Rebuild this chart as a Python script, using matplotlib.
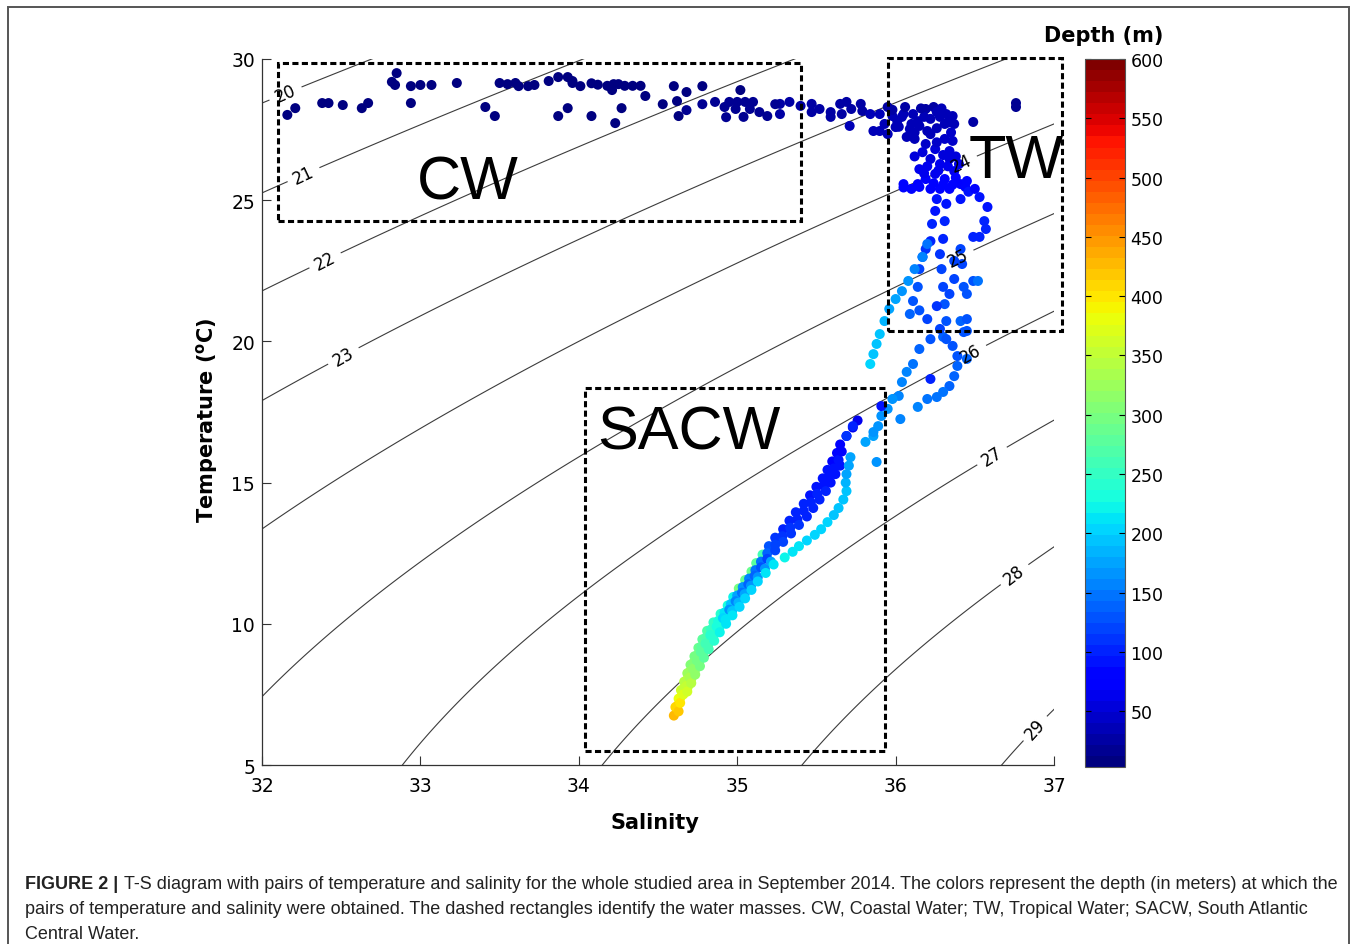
import numpy as np
import matplotlib
matplotlib.use("Agg")
import matplotlib.pyplot as plt
from matplotlib.colors import Normalize
from matplotlib.patches import Rectangle

# ---- data (salinity, temperature degC, depth m) ----
# surface / Coastal Water points
surf_sal = [32.16, 32.21, 32.38, 32.42, 32.51, 32.63, 32.67, 32.82, 32.85, 32.84,
            32.94, 32.94, 33.00, 33.07, 33.23, 33.41, 33.47, 33.50, 33.55, 33.60,
            33.62, 33.68, 33.72, 33.81, 33.87, 33.87, 33.93, 33.93, 33.96, 33.96,
            34.01, 34.08, 34.12, 34.18, 34.22, 34.25, 34.29, 34.34, 34.39, 34.21,
            34.42, 34.23, 34.27, 34.08, 34.53, 34.60, 34.62, 34.63, 34.68, 34.68,
            34.78, 34.78, 34.86, 34.92, 34.93, 34.95, 35.00, 35.05, 35.10, 35.02,
            34.99, 35.04, 35.08, 35.14, 35.19, 35.24, 35.27]
surf_temp = [28.02, 28.26, 28.44, 28.44, 28.37, 28.26, 28.44, 29.19, 29.50, 29.08,
             29.04, 28.44, 29.08, 29.08, 29.15, 28.30, 27.98, 29.15, 29.11, 29.15,
             29.04, 29.04, 29.08, 29.22, 29.36, 27.98, 28.26, 29.36, 29.22, 29.15,
             29.04, 29.14, 29.09, 29.05, 29.11, 29.11, 29.05, 29.05, 29.05, 28.90,
             28.69, 27.73, 28.26, 27.98, 28.40, 29.04, 28.51, 27.98, 28.83, 28.19,
             29.04, 28.40, 28.48, 28.30, 27.94, 28.48, 28.48, 28.48, 28.48, 28.90,
             28.23, 27.95, 28.23, 28.12, 27.98, 28.40, 28.05]
surf_depth = [8, 8, 8, 8, 8, 8, 8, 8, 8, 10,
              8, 10, 8, 8, 8, 10, 10, 8, 8, 8,
              10, 8, 8, 8, 8, 10, 10, 8, 8, 10,
              10, 8, 8, 8, 8, 8, 8, 8, 8, 10,
              12, 12, 10, 10, 12, 10, 12, 12, 12, 14,
              10, 14, 14, 15, 15, 15, 15, 15, 18, 12,
              16, 18, 18, 20, 20, 18, 22]

# Tropical Water points
tw_sal = [35.27, 35.33, 35.40, 35.47, 35.47, 35.52, 35.59, 35.59, 35.65, 35.66,
          35.69, 35.71, 35.72, 35.78, 35.79, 35.84, 35.86, 35.90, 35.90, 35.95,
          35.95, 35.98, 36.01, 36.05, 36.07, 36.11, 36.14, 36.15, 36.20, 36.24,
          36.26, 36.28, 36.32, 36.36, 36.37, 36.36, 36.34, 36.49, 36.76, 36.76,
          36.06, 36.19, 36.00, 36.09, 36.22, 36.31,
          35.98, 36.02, 36.10, 36.18, 36.16, 36.29, 36.33, 36.26, 36.12, 36.04,
          36.35, 35.93,
          36.12, 36.19, 36.25, 36.31, 36.34, 36.28, 36.22, 36.15, 36.19, 36.25,
          36.31, 36.37, 36.41, 36.34, 36.28, 36.22, 36.14, 36.05, 36.10, 36.15,
          36.41, 36.44, 36.40, 36.22,
          36.17, 36.30, 36.20, 36.27, 36.33, 36.38, 36.24, 36.30, 36.36, 36.18,
          36.12, 36.05, 36.26, 36.38, 36.46,
          36.26, 36.25, 36.23, 36.22, 36.19, 36.17, 36.15, 36.14, 36.11, 36.09,
          36.15, 36.20, 36.22, 36.15, 36.11, 36.07, 36.04, 36.02, 35.98, 35.95,
          35.91, 35.89, 35.86, 35.81, 35.88, 36.03, 36.14, 36.20,
          36.20, 36.17, 36.12, 36.08, 36.04, 36.00, 35.96, 35.93, 35.90, 35.88,
          35.86, 35.84,
          36.32, 36.31, 36.30, 36.28, 36.29, 36.30, 36.31, 36.32, 36.30,
          36.45, 36.50, 36.53, 36.58, 36.56, 36.53, 36.49, 36.57, 36.42, 36.43,
          36.49, 36.52, 36.45, 36.41, 36.45, 36.41, 36.37, 36.37, 36.34,
          36.26, 36.28, 36.32, 36.36, 36.39, 36.39, 36.37, 36.34, 36.30, 36.26,
          36.45, 36.43, 36.45, 36.22,
          35.73, 35.69, 35.91, 35.86]
tw_temp = [28.41, 28.48, 28.34, 28.41, 28.12, 28.23, 28.12, 27.95, 28.41, 28.05,
           28.48, 27.63, 28.23, 28.41, 28.16, 28.05, 27.45, 27.45, 28.05, 28.30,
           27.34, 27.98, 27.80, 28.05, 27.24, 28.05, 27.80, 27.63, 27.45, 28.30,
           28.12, 27.95, 28.05, 27.98, 27.70, 27.10, 26.74, 27.77, 28.30, 28.44,
           28.30, 28.23, 27.59, 27.52, 27.88, 27.70,
           28.20, 27.60, 27.70, 27.95, 28.25, 28.25, 27.75, 27.55, 27.40, 27.95,
           27.40, 27.70,
           27.17, 26.99, 26.81, 27.17, 26.46, 26.28, 26.46, 26.10, 25.75, 25.93,
           25.75, 26.03, 25.57, 25.40, 25.40, 25.40, 25.57, 25.57, 25.40, 25.47,
           25.04, 25.47, 26.28, 27.34,
           26.70, 26.60, 26.20, 26.05, 26.20, 25.80, 25.60, 25.55, 25.55, 25.95,
           26.55, 25.45, 27.05, 26.55, 25.30,
           25.04, 24.62, 24.16, 23.55, 23.27, 22.99, 22.56, 21.93, 21.43, 20.97,
           21.10, 20.79, 20.08, 19.73, 19.20, 18.92, 18.56, 18.07, 17.96, 17.61,
           17.36, 17.00, 16.65, 16.44, 15.73, 17.25, 17.68, 17.96,
           23.45, 22.99, 22.56, 22.14, 21.78, 21.50, 21.15, 20.72, 20.26, 19.91,
           19.55, 19.20,
           24.87, 24.26, 23.63, 23.09, 22.56, 21.93, 21.32, 20.72, 20.16,
           25.68, 25.40, 25.11, 24.76, 24.26, 23.70, 23.70, 23.98, 22.74, 21.93,
           22.14, 22.14, 21.68, 20.72, 20.37, 23.27, 22.85, 22.21, 21.68,
           21.25, 20.44, 20.08, 19.84, 19.48, 19.13, 18.77, 18.42, 18.21, 18.03,
           20.79, 20.33, 19.38, 18.67,
           17.00, 16.65, 17.71, 16.79]
tw_depth = [22, 22, 24, 24, 26, 26, 28, 30, 26, 30,
            26, 32, 28, 28, 30, 32, 35, 35, 32, 30,
            38, 32, 34, 32, 40, 32, 34, 36, 38, 30,
            32, 34, 34, 36, 40, 45, 50, 30, 20, 20,
            30, 30, 36, 38, 34, 38,
            30, 36, 36, 34, 30, 32, 38, 40, 40, 32,
            42, 34,
            40, 45, 50, 45, 55, 60, 55, 65, 70, 65,
            70, 65, 75, 80, 80, 75, 70, 80, 85, 80,
            90, 85, 60, 35,
            50, 55, 62, 68, 62, 72, 75, 78, 80, 68,
            52, 82, 45, 58, 88,
            90, 95, 100, 105, 110, 115, 120, 125, 130, 135,
            125, 120, 125, 140, 150, 155, 160, 160, 165, 165,
            170, 170, 175, 175, 165, 160, 155, 150,
            150, 155, 160, 165, 170, 175, 180, 185, 190, 190,
            195, 200,
            95, 100, 105, 110, 115, 120, 125, 130, 135,
            80, 85, 90, 95, 100, 105, 100, 100, 120, 125,
            130, 150, 130, 135, 130, 115, 115, 120, 120,
            110, 120, 125, 130, 130, 135, 140, 140, 145, 150,
            125, 130, 135, 100,
            100, 110, 90, 170]

# South Atlantic Central Water points (several casts along the band)
sacw_sal = [34.60, 34.61, 34.63, 34.645, 34.665, 34.685, 34.705, 34.73, 34.755, 34.78,
            34.81, 34.85, 34.895, 34.94, 34.975, 35.01, 35.05, 35.09, 35.12, 35.16,
            35.20, 35.24, 35.29, 35.33, 35.37, 35.42, 35.46, 35.50, 35.54, 35.57,
            35.60, 35.63, 35.65, 35.69, 35.73, 35.76,
            34.623, 34.643, 34.66, 34.68, 34.70, 34.72, 34.75, 34.775, 34.80, 34.835,
            34.88, 34.92, 34.96, 35.00, 35.035, 35.075, 35.115, 35.15, 35.19, 35.24,
            35.285, 35.335, 35.38, 35.42, 35.465, 35.505, 35.545, 35.58, 35.61, 35.64,
            35.66,
            34.63, 34.64, 34.66, 34.68, 34.70, 34.72, 34.745, 34.77, 34.80, 34.83,
            34.87, 34.91, 34.95, 34.99, 35.03, 35.07, 35.11, 35.15, 35.19, 35.24,
            35.29, 35.34, 35.39, 35.44, 35.48, 35.52, 35.56, 35.59, 35.62, 35.65,
            34.687, 34.71, 34.733, 34.759, 34.786, 34.816, 34.849, 34.887, 34.927, 34.968,
            35.008, 35.047, 35.087, 35.13, 35.175, 35.213,
            34.685, 34.71, 34.735, 34.765, 34.79, 34.82, 34.855, 34.89, 34.93, 34.97,
            35.015, 35.05, 35.09, 35.13, 35.18, 35.23, 35.30, 35.35, 35.39, 35.44,
            35.49, 35.53, 35.57, 35.61, 35.64, 35.67, 35.69, 35.685, 35.69, 35.705,
            35.715]
sacw_temp = [6.75, 7.05, 7.35, 7.65, 7.95, 8.25, 8.55, 8.85, 9.15, 9.45,
             9.75, 10.05, 10.35, 10.65, 10.95, 11.25, 11.55, 11.85, 12.15, 12.45,
             12.75, 13.05, 13.35, 13.65, 13.95, 14.25, 14.55, 14.85, 15.15, 15.45,
             15.75, 16.05, 16.35, 16.65, 16.95, 17.20,
             7.1, 7.4, 7.7, 8.0, 8.3, 8.6, 8.9, 9.2, 9.5, 9.8,
             10.1, 10.4, 10.7, 11.0, 11.3, 11.6, 11.9, 12.2, 12.5, 12.8,
             13.1, 13.4, 13.7, 14.0, 14.3, 14.6, 14.9, 15.2, 15.5, 15.8,
             16.1,
             6.90, 7.20, 7.50, 7.80, 8.10, 8.40, 8.70, 9.00, 9.30, 9.60,
             9.90, 10.20, 10.50, 10.80, 11.10, 11.40, 11.70, 12.00, 12.30, 12.60,
             12.90, 13.20, 13.50, 13.80, 14.10, 14.40, 14.70, 15.00, 15.30, 15.60,
             7.75, 8.05, 8.35, 8.65, 8.95, 9.25, 9.55, 9.85, 10.15, 10.45,
             10.75, 11.05, 11.35, 11.65, 11.95, 12.2,
             7.60, 7.90, 8.20, 8.50, 8.80, 9.10, 9.40, 9.70, 10.00, 10.30,
             10.60, 10.90, 11.20, 11.50, 11.80, 12.10, 12.35, 12.55, 12.75, 12.95,
             13.15, 13.35, 13.60, 13.85, 14.10, 14.40, 14.70, 15.00, 15.30, 15.60,
             15.90]
sacw_depth = [430, 410, 385, 360, 340, 325, 310, 300, 290, 280,
              265, 250, 240, 230, 225, 300, 290, 290, 280, 260,
              130, 110, 105, 100, 100, 100, 95, 95, 90, 90,
              85, 80, 75, 70, 65, 60,
              405, 380, 355, 340, 322, 305, 295, 280, 265, 250,
              235, 215, 190, 180, 170, 160, 150, 145, 135, 120,
              112, 108, 105, 102, 100, 98, 95, 92, 90, 88,
              85,
              420, 395, 370, 350, 330, 315, 300, 280, 260, 245,
              230, 200, 170, 160, 150, 140, 135, 130, 120, 120,
              115, 110, 110, 105, 105, 100, 100, 95, 95, 90,
              355, 335, 315, 300, 280, 262, 245, 228, 215, 195,
              185, 175, 170, 165, 170, 175,
              360, 340, 320, 300, 280, 260, 240, 220, 215, 210,
              205, 200, 200, 200, 210, 215, 220, 215, 210, 205,
              205, 200, 200, 195, 195, 190, 190, 185, 180, 180,
              175]

# water mass boxes: (S_min, S_max, T_min, T_max)
boxes = {"CW": (32.1, 35.4, 24.25, 29.85),
         "TW": (35.95, 37.05, 20.37, 30.03),
         "SACW": (34.04, 35.93, 5.5, 18.35)}
sigma_levels = list(range(20, 30))


def sigma_t(s, t):
    # UNESCO 1981 equation of state at the surface
    rw = (999.842594 + 6.793952e-2 * t - 9.095290e-3 * t**2 + 1.001685e-4 * t**3
          - 1.120083e-6 * t**4 + 6.536332e-9 * t**5)
    a = 8.24493e-1 - 4.0899e-3 * t + 7.6438e-5 * t**2 - 8.2467e-7 * t**3 + 5.3875e-9 * t**4
    b = -5.72466e-3 + 1.0227e-4 * t - 1.6546e-6 * t**2
    c = 4.8314e-4
    return rw + a * s + b * s**1.5 + c * s**2 - 1000.0


W, H = 1358, 945
fig = plt.figure(figsize=(W / 100, H / 100), dpi=100)
ax = fig.add_axes([262 / W, 1 - 766 / H, 792 / W, 706 / H])

sg, tg = np.meshgrid(np.linspace(31.5, 37.5, 300), np.linspace(3, 31, 300))
cs = ax.contour(sg, tg, sigma_t(sg, tg), levels=sigma_levels, colors="#3c3c3c", linewidths=0.8)
label_pos = [(32.15, 28.76), (32.26, 25.93), (32.40, 22.85), (32.51, 19.52),
             (36.41, 26.35), (36.39, 23.0), (36.47, 19.62), (36.61, 15.93),
             (36.76, 11.68), (36.88, 6.3)]
labels = ax.clabel(cs, manual=label_pos, inline=True, fontsize=12, fmt="%d", colors="k",
                   inline_spacing=4)
for t in labels:
    t.set_zorder(6)

cmap = plt.get_cmap("jet", 64)
norm = Normalize(vmin=3, vmax=600)
all_sal = sacw_sal + tw_sal + surf_sal
all_temp = sacw_temp + tw_temp + surf_temp
all_depth = sacw_depth + tw_depth + surf_depth
sc = ax.scatter(all_sal, all_temp, c=all_depth, cmap=cmap, norm=norm, s=52,
                linewidths=0, zorder=3)

for name, (s0, s1, t0, t1) in boxes.items():
    ax.add_patch(Rectangle((s0, t0), s1 - s0, t1 - t0, fill=False, ec="k", lw=2.2,
                           ls=(0, (2.0, 1.1)), zorder=5, clip_on=False))

ax.set_xlim(32, 37)
ax.set_ylim(5, 30)
ax.set_xticks([32, 33, 34, 35, 36, 37])
ax.set_yticks([5, 10, 15, 20, 25, 30])
for side in ["top", "right"]:
    ax.spines[side].set_visible(False)
for side in ["left", "bottom"]:
    ax.spines[side].set_color("#333333")
    ax.spines[side].set_linewidth(0.9)
ax.tick_params(direction="in", length=6.5, width=0.8, color="#333333", labelsize=13.5)
ax.tick_params(axis="x", pad=8)
ax.tick_params(axis="y", pad=5)

fig.text(655 / W, 1 - 823 / H, "Salinity", ha="center", va="center", fontsize=15, weight="bold")
fig.text(207 / W, 1 - 420 / H, r"Temperature ($\mathbf{^o}$C)", ha="center", va="center",
         rotation=90, fontsize=15, weight="bold")

big = dict(fontsize=44, family="Liberation Sans", va="baseline", ha="center", zorder=6)
fig.text(468 / W, 1 - 200 / H, "CW", **big)
fig.text(1016 / W, 1 - 178 / H, "TW", **big)
fig.text(689 / W, 1 - 450 / H, "SACW", **big)

cax = fig.add_axes([1085 / W, 1 - 768 / H, 40 / W, 708 / H])
cb = fig.colorbar(sc, cax=cax, ticks=list(range(50, 601, 50)))
cb.outline.set_edgecolor("#555555")
cb.outline.set_linewidth(0.8)
cax.tick_params(direction="in", length=4, width=0.8, left=True, right=True, labelsize=12.5, pad=4)
fig.text(1104 / W, 1 - 36 / H, "Depth (m)", ha="center", va="center", fontsize=15, weight="bold")

cap = dict(fontsize=13, family="Liberation Sans", va="center", color="#222222")
fig.text(25 / W, 1 - 885 / H, "FIGURE 2 |", weight="bold", **cap)
fig.text(124 / W, 1 - 885 / H, "T-S diagram with pairs of temperature and salinity for the whole "
         "studied area in September 2014. The colors represent the depth (in meters) at which the", **cap)
fig.text(25 / W, 1 - 910 / H, "pairs of temperature and salinity were obtained. The dashed rectangles "
         "identify the water masses. CW, Coastal Water; TW, Tropical Water; SACW, South Atlantic", **cap)
fig.text(25 / W, 1 - 935 / H, "Central Water.", **cap)

fig.add_artist(Rectangle((8 / W, -0.02), 1341 / W, 1.02 - 8 / H, transform=fig.transFigure,
                         fill=False, ec="#555555", lw=1.4))

fig.savefig("out.png", dpi=100)
